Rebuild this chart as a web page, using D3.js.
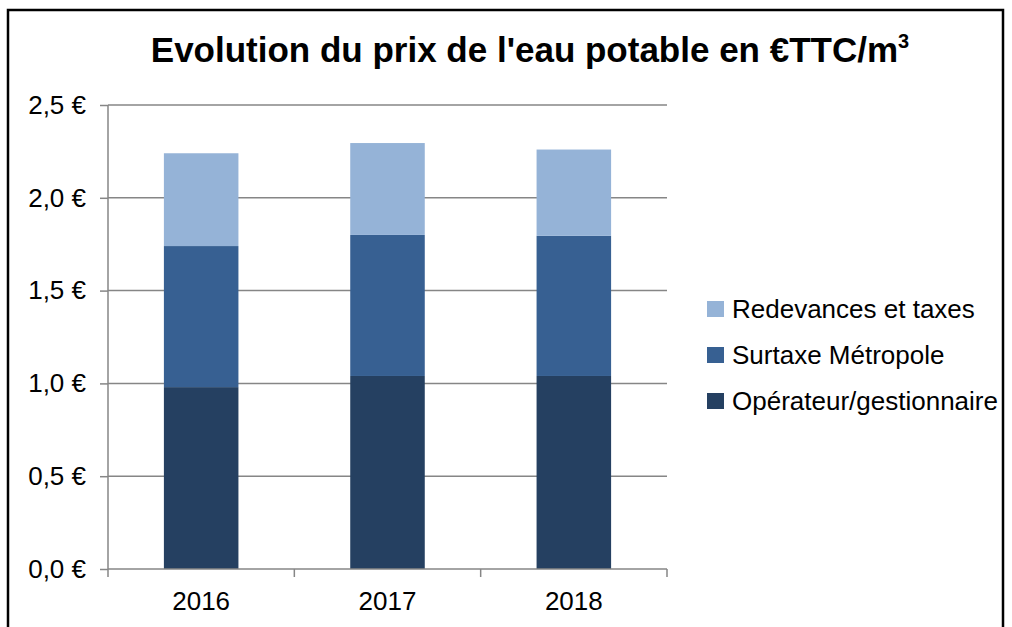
<!DOCTYPE html>
<html lang="fr">
    <head>
        <meta charset="utf-8">
        <title>Evolution du prix de l'eau potable</title>
        <script src="https://cdn.jsdelivr.net/npm/d3@7/dist/d3.min.js"></script>
        <style>
            body { margin: 0; background: #fff; }
            text { font-family: "Liberation Sans", Arial, sans-serif; fill: #000; }
        </style>
    </head>
    <body>
        <div class="chart"></div>
        <script>
            // données
            var annees = ["2016", "2017", "2018"];
            var operateur = [0.98, 1.04, 1.04];
            var surtaxe = [0.76, 0.76, 0.755];
            var redevances = [0.50, 0.495, 0.465];
            var series = ["Opérateur/gestionnaire", "Surtaxe Métropole", "Redevances et taxes"];
            var couleurs = ["#254061", "#376092", "#95B3D7"];
            var yTicks = [0, 0.5, 1, 1.5, 2, 2.5];

            var w = 1012, h = 627;
            var svg = d3.select("div.chart").append("svg")
                        .attr("width", w).attr("height", h);

            // cadre noir
            svg.append("rect")
               .attr("x", 8).attr("y", 10)
               .attr("width", 995).attr("height", 640)
               .attr("fill", "none").attr("stroke", "#000").attr("stroke-width", 2.5);

            // titre
            var titre = svg.append("text")
               .attr("x", 530).attr("y", 62)
               .attr("text-anchor", "middle")
               .attr("font-size", 35).attr("font-weight", "bold");
            titre.append("tspan").text("Evolution du prix de l'eau potable en €TTC/m");
            titre.append("tspan").attr("font-size", 20).attr("dy", -14).text("3");

            // échelles
            var xScale = d3.scaleBand().domain(annees)
                           .range([108, 667]).paddingInner(0.6).paddingOuter(0.3);
            var yScale = d3.scaleLinear().domain([0, 2.5]).range([569, 105]);

            // grille
            svg.append("g").selectAll("line").data(yTicks.slice(1)).enter().append("line")
               .attr("x1", 108).attr("x2", 667)
               .attr("y1", function(d){ return yScale(d); })
               .attr("y2", function(d){ return yScale(d); })
               .attr("stroke", "#868686").attr("stroke-width", 1.5);

            // empilement
            var table = annees.map(function(a, i){
                return {annee: a, 0: operateur[i], 1: surtaxe[i], 2: redevances[i]};
            });
            var stack = d3.stack().keys([0, 1, 2])(table);
            svg.append("g").selectAll("g").data(stack).enter().append("g")
               .attr("fill", function(d, i){ return couleurs[i]; })
               .selectAll("rect").data(function(d){ return d; }).enter().append("rect")
               .attr("x", function(d){ return xScale(d.data.annee); })
               .attr("width", xScale.bandwidth())
               .attr("y", function(d){ return yScale(d[1]); })
               .attr("height", function(d){ return yScale(d[0]) - yScale(d[1]); });

            // axe y
            var yAxis = d3.axisLeft(yScale).tickValues(yTicks).tickSize(8).tickPadding(14)
                          .tickFormat(function(d){ return d3.format(".1f")(d).replace(".", ",") + " €"; });
            var gy = svg.append("g").attr("transform", "translate(108,0)").call(yAxis);
            gy.selectAll("line, path").attr("stroke", "#868686").attr("stroke-width", 1.5);
            gy.select("path").attr("d", "M0,569V105");
            gy.selectAll("text").attr("font-size", 26).attr("font-family", "Liberation Sans, Arial, sans-serif");

            // axe x
            var xAxis = d3.axisBottom(xScale).tickSize(0).tickPadding(23);
            var gx = svg.append("g").attr("transform", "translate(0,569)").call(xAxis);
            gx.select("path").attr("d", "M108,0H667").attr("stroke", "#868686").attr("stroke-width", 1.5);
            gx.selectAll("text").attr("font-size", 26).attr("font-family", "Liberation Sans, Arial, sans-serif");
            var bornes = [0, 1, 2, 3].map(function(i){ return 108 + i * xScale.step(); });
            gx.selectAll("line.borne").data(bornes).enter().append("line").attr("class", "borne")
              .attr("x1", function(d){ return d; }).attr("x2", function(d){ return d; })
              .attr("y1", 0).attr("y2", 8)
              .attr("stroke", "#868686").attr("stroke-width", 1.5);

            // légende
            var leg = svg.append("g").selectAll("g").data(series.slice().reverse()).enter().append("g")
                         .attr("transform", function(d, i){ return "translate(707," + (309 + i * 46) + ")"; });
            leg.append("rect").attr("x", 0).attr("y", -8).attr("width", 17).attr("height", 16)
               .attr("fill", function(d, i){ return couleurs[2 - i]; });
            leg.append("text").attr("x", 25).attr("y", 0).attr("dy", "0.35em")
               .attr("font-size", 26).text(function(d){ return d; });
        </script>
    </body>
</html>
